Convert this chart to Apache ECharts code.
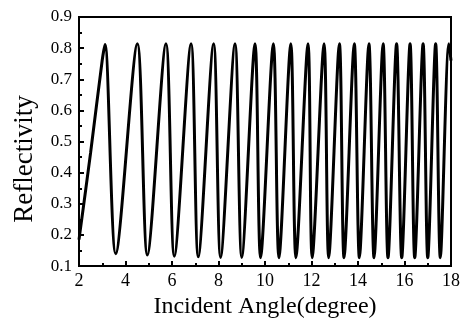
<!DOCTYPE html>
<html>
<head>
<meta charset="utf-8">
<script src="https://cdn.jsdelivr.net/npm/echarts@6/dist/echarts.min.js"></script>
<style>
  html, body { margin: 0; padding: 0; background: #fff; }
  #chart { width: 465px; height: 324px; }
</style>
</head>
<body>
<div id="chart"></div>
<script>
// incident angle (degree) at each read-off point: start, peaks and troughs, end
const angles = [
  2.00, 2.50, 3.00, 3.12, 3.58, 4.51, 4.94, 5.74, 6.10, 6.82, 7.13,
  7.79, 8.09, 8.71, 9.00, 9.57, 9.81, 10.36, 10.60, 11.11, 11.33,
  11.85, 12.03, 12.54, 12.74, 13.20, 13.40, 13.84, 14.06, 14.47, 14.69,
  15.08, 15.29, 15.66, 15.88, 16.24, 16.44, 16.80, 17.00, 17.34, 17.54,
  17.91, 18.00
];
const reflectivity = [
  0.185, 0.465, 0.762, 0.812, 0.140, 0.814, 0.136, 0.814, 0.132, 0.814, 0.130,
  0.814, 0.128, 0.814, 0.128, 0.814, 0.127, 0.814, 0.127, 0.814, 0.127,
  0.814, 0.127, 0.814, 0.127, 0.814, 0.127, 0.814, 0.127, 0.814, 0.127,
  0.814, 0.127, 0.814, 0.127, 0.814, 0.127, 0.814, 0.127, 0.814, 0.127,
  0.814, 0.760
];
const xTicks = { min: 2, max: 18, interval: 2 };
const yTicks = { min: 0.1, max: 0.9, interval: 0.1 };

const font = '"Liberation Serif", "Times New Roman", serif';
const chart = echarts.init(document.getElementById('chart'));

chart.setOption({
  animation: false,
  backgroundColor: '#fff',
  textStyle: { fontFamily: font },
  grid: {
    left: 79, right: 14, top: 17, bottom: 57,
    show: true, borderColor: '#000', borderWidth: 2
  },
  // y title sits a bit below the plot middle in the original
  graphic: [{
    type: 'text',
    x: 25, y: 159,
    rotation: Math.PI / 2,
    style: {
      text: 'Reflectivity',
      font: '27px ' + font,
      fill: '#000',
      align: 'center',
      verticalAlign: 'middle'
    }
  }],
  xAxis: {
    type: 'value',
    ...xTicks,
    name: 'Incident Angle(degree)',
    nameLocation: 'middle',
    nameGap: 27,
    nameTextStyle: { fontFamily: font, fontSize: 24, color: '#000' },
    axisLine: { lineStyle: { color: '#000', width: 2 } },
    axisTick: { inside: true, length: 5, lineStyle: { color: '#000', width: 2 } },
    minorTick: { show: true, splitNumber: 2, length: 3, lineStyle: { color: '#000', width: 2 } },
    axisLabel: { fontFamily: font, fontSize: 18, color: '#000', margin: 6 },
    splitLine: { show: false }
  },
  yAxis: {
    type: 'value',
    ...yTicks,
    axisLine: { lineStyle: { color: '#000', width: 2 } },
    axisTick: { inside: true, length: 5, lineStyle: { color: '#000', width: 2 } },
    minorTick: { show: true, splitNumber: 2, length: 3, lineStyle: { color: '#000', width: 2 } },
    axisLabel: {
      fontFamily: font, fontSize: 17, color: '#000', margin: 7,
      formatter: (v) => v.toFixed(1)
    },
    splitLine: { show: false }
  },
  series: [{
    type: 'line',
    data: angles.map((a, i) => [a, reflectivity[i]]),
    smooth: 0.3,
    symbol: 'none',
    clip: true,
    lineStyle: { color: '#000', width: 3 }
  }]
});
</script>
</body>
</html>
